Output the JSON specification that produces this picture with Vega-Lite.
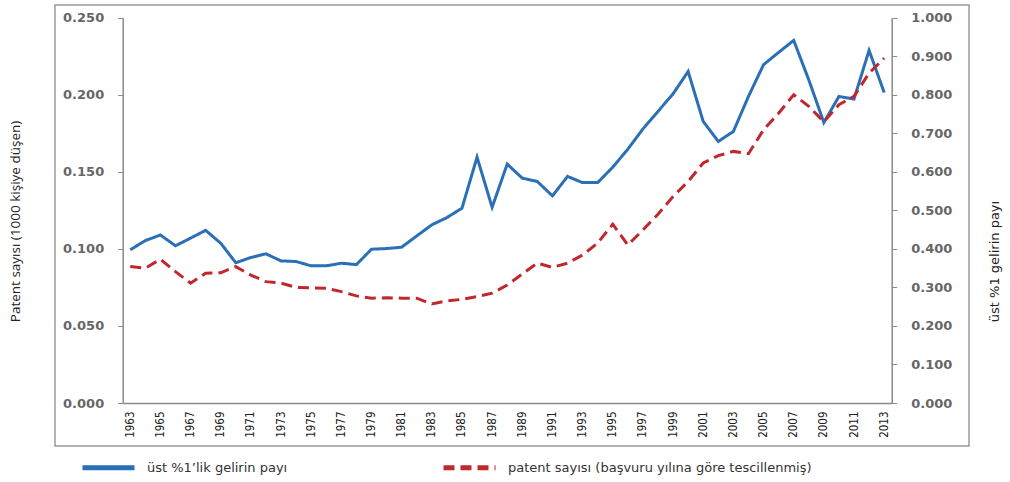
{
  "$schema": "https://vega.github.io/schema/vega-lite/v6.json",
  "width": 914,
  "height": 441,
  "autosize": {"type": "none"},
  "padding": {"left": 55, "top": 5, "right": 41, "bottom": 36},
  "config": {
    "view": {"stroke": "#9a9a9a", "strokeWidth": 1.5},
    "axis": {"grid": false}
  },
  "data": {
    "values": [
      {"year": 1963, "top1": 0.0994, "patent": 0.354},
      {"year": 1964, "top1": 0.1054, "patent": 0.350},
      {"year": 1965, "top1": 0.109, "patent": 0.373},
      {"year": 1966, "top1": 0.102, "patent": 0.341},
      {"year": 1967, "top1": 0.107, "patent": 0.311},
      {"year": 1968, "top1": 0.112, "patent": 0.337},
      {"year": 1969, "top1": 0.1037, "patent": 0.338},
      {"year": 1970, "top1": 0.091, "patent": 0.354},
      {"year": 1971, "top1": 0.0944, "patent": 0.332},
      {"year": 1972, "top1": 0.0968, "patent": 0.315},
      {"year": 1973, "top1": 0.0922, "patent": 0.311},
      {"year": 1974, "top1": 0.0918, "patent": 0.300},
      {"year": 1975, "top1": 0.089, "patent": 0.299},
      {"year": 1976, "top1": 0.089, "patent": 0.298},
      {"year": 1977, "top1": 0.0907, "patent": 0.289},
      {"year": 1978, "top1": 0.0898, "patent": 0.278},
      {"year": 1979, "top1": 0.0998, "patent": 0.272},
      {"year": 1980, "top1": 0.1002, "patent": 0.273},
      {"year": 1981, "top1": 0.1011, "patent": 0.272},
      {"year": 1982, "top1": 0.1084, "patent": 0.272},
      {"year": 1983, "top1": 0.1156, "patent": 0.257},
      {"year": 1984, "top1": 0.1203, "patent": 0.265},
      {"year": 1985, "top1": 0.1264, "patent": 0.269},
      {"year": 1986, "top1": 0.1595, "patent": 0.276},
      {"year": 1987, "top1": 0.127, "patent": 0.285},
      {"year": 1988, "top1": 0.155, "patent": 0.306},
      {"year": 1989, "top1": 0.1459, "patent": 0.335},
      {"year": 1990, "top1": 0.1437, "patent": 0.363},
      {"year": 1991, "top1": 0.1344, "patent": 0.352},
      {"year": 1992, "top1": 0.147, "patent": 0.363},
      {"year": 1993, "top1": 0.143, "patent": 0.384},
      {"year": 1994, "top1": 0.143, "patent": 0.415},
      {"year": 1995, "top1": 0.153, "patent": 0.464},
      {"year": 1996, "top1": 0.1647, "patent": 0.410},
      {"year": 1997, "top1": 0.1778, "patent": 0.449},
      {"year": 1998, "top1": 0.1892, "patent": 0.490},
      {"year": 1999, "top1": 0.2006, "patent": 0.536},
      {"year": 2000, "top1": 0.2151, "patent": 0.575},
      {"year": 2001, "top1": 0.1827, "patent": 0.623},
      {"year": 2002, "top1": 0.1697, "patent": 0.642},
      {"year": 2003, "top1": 0.1762, "patent": 0.653},
      {"year": 2004, "top1": 0.1989, "patent": 0.647},
      {"year": 2005, "top1": 0.2195, "patent": 0.709},
      {"year": 2006, "top1": 0.2275, "patent": 0.752},
      {"year": 2007, "top1": 0.2353, "patent": 0.800},
      {"year": 2008, "top1": 0.2097, "patent": 0.770},
      {"year": 2009, "top1": 0.182, "patent": 0.730},
      {"year": 2010, "top1": 0.1989, "patent": 0.774},
      {"year": 2011, "top1": 0.1972, "patent": 0.796},
      {"year": 2012, "top1": 0.2288, "patent": 0.856},
      {"year": 2013, "top1": 0.2015, "patent": 0.895}
    ]
  },
  "encoding": {
    "x": {
      "field": "year",
      "type": "quantitative",
      "scale": {"domain": [1962.5, 2013.5], "range": [67.7, 836.7], "nice": false, "zero": false},
      "axis": {
        "orient": "bottom",
        "offset": -43,
        "values": [1963,1965,1967,1969,1971,1973,1975,1977,1979,1981,1983,1985,1987,1989,1991,1993,1995,1997,1999,2001,2003,2005,2007,2009,2011,2013],
        "format": "d",
        "labelAngle": -90,
        "labelFont": "DejaVu Sans Condensed",
        "labelFontSize": 11.5,
        "labelColor": "#222222",
        "ticks": false,
        "labelPadding": 8,
        "labelFlush": false,
        "labelOverlap": false,
        "domainColor": "#8a8a8a",
        "domainWidth": 1.5,
        "title": null
      }
    }
  },
  "layer": [
    {
      "mark": {"type": "line", "strokeWidth": 3, "strokeJoin": "miter"},
      "encoding": {
        "y": {
          "field": "top1",
          "type": "quantitative",
          "scale": {"domain": [0, 0.25], "range": [398, 12.7], "nice": false},
          "axis": {
            "orient": "left",
            "offset": -67.7,
            "values": [0, 0.05, 0.1, 0.15, 0.2, 0.25],
            "format": ".3f",
            "tickSize": 5,
            "tickColor": "#8a8a8a",
            "domainColor": "#8a8a8a",
            "domainWidth": 1.5,
            "labelFont": "DejaVu Sans",
            "labelFontSize": 13,
            "labelFontWeight": "bold",
            "labelColor": "#666666",
            "labelPadding": 14,
            "labelFlush": false,
            "title": "Patent sayısı (1000 kişiye düşen)",
            "titleFont": "Open Sans",
            "titleFontSize": 13.5,
            "titleFontWeight": "normal",
            "titleColor": "#222222",
            "titleX": -107,
            "titleY": 216,
            "titleAngle": 270,
            "titleAlign": "center",
            "titleBaseline": "middle"
          }
        },
        "color": {
          "datum": "üst %1’lik gelirin payı",
          "scale": {
            "domain": ["üst %1’lik gelirin payı", "patent sayısı (başvuru yılına göre tescillenmiş)"],
            "range": ["#2b6fb6", "#c0282e"]
          },
          "legend": {
            "orient": "none",
            "legendX": 25,
            "legendY": 434,
            "direction": "horizontal",
            "title": null,
            "padding": 0,
            "symbolType": "stroke",
            "symbolSize": 2704,
            "symbolStrokeWidth": 5,
            "labelFont": "DejaVu Sans",
            "labelFontSize": 13,
            "labelColor": "#333333",
            "labelOffset": 10,
            "labelLimit": 600,
            "columnPadding": 145,
            "encode": {
              "symbols": {
                "update": {
                  "stroke": {"signal": "indexof(datum.value, 'patent') === 0 ? '#b8464b' : '#4bacc6'"},
                  "strokeDash": {"signal": "indexof(datum.value, 'patent') === 0 ? [24, 6] : [1, 0]"}
                }
              }
            }
          }
        },
        "strokeDash": {
          "datum": "üst %1’lik gelirin payı",
          "scale": {
            "domain": ["üst %1’lik gelirin payı", "patent sayısı (başvuru yılına göre tescillenmiş)"],
            "range": [[1, 0], [11, 6]]
          },
          "legend": null
        }
      }
    },
    {
      "mark": {"type": "line", "strokeWidth": 3, "strokeJoin": "miter"},
      "encoding": {
        "y": {
          "field": "patent",
          "type": "quantitative",
          "scale": {"domain": [0, 1], "range": [398, 12.7], "nice": false},
          "axis": {
            "orient": "right",
            "offset": -77.3,
            "values": [0, 0.1, 0.2, 0.3, 0.4, 0.5, 0.6, 0.7, 0.8, 0.9, 1.0],
            "format": ".3f",
            "tickSize": 5,
            "tickColor": "#8a8a8a",
            "domainColor": "#8a8a8a",
            "domainWidth": 1.5,
            "labelFont": "DejaVu Sans",
            "labelFontSize": 13,
            "labelFontWeight": "bold",
            "labelColor": "#666666",
            "labelPadding": 14,
            "labelFlush": false,
            "title": "üst %1 gelirin payı",
            "titleFont": "DejaVu Sans",
            "titleFontSize": 13,
            "titleFontWeight": "normal",
            "titleColor": "#222222",
            "titleX": 103,
            "titleY": 256,
            "titleAngle": 270,
            "titleAlign": "center",
            "titleBaseline": "middle"
          }
        },
        "color": {"datum": "patent sayısı (başvuru yılına göre tescillenmiş)"},
        "strokeDash": {"datum": "patent sayısı (başvuru yılına göre tescillenmiş)"}
      }
    }
  ],
  "resolve": {"scale": {"y": "independent"}, "axis": {"y": "independent"}}
}
